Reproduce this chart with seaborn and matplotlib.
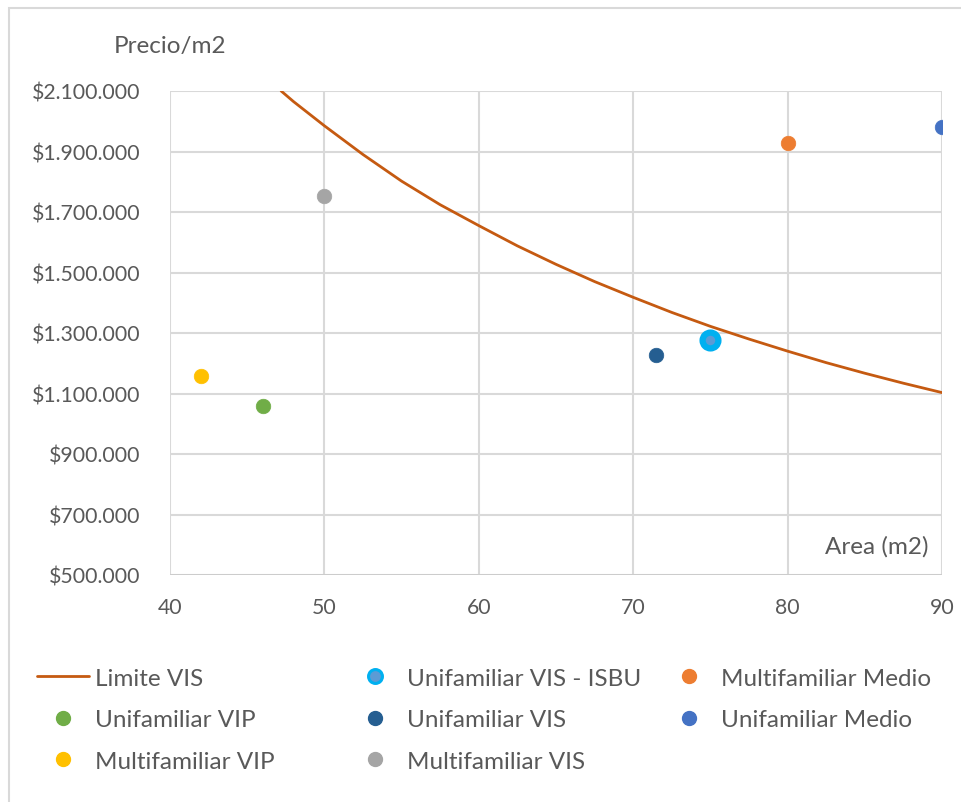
import matplotlib
matplotlib.use("Agg")
import matplotlib.pyplot as plt
import matplotlib.ticker as mticker
from matplotlib.patches import Rectangle
from matplotlib.lines import Line2D
import seaborn as sns
import pandas as pd

sns.set_theme(style="white")
plt.rcParams['font.family'] = ['Lato', 'DejaVu Sans']

# Limite VIS curve
limite_x = [47.2, 48, 50, 52.5, 55, 57.5, 60, 62.5, 65, 67.5, 70, 72.5, 75, 77.5, 80, 82.5, 85, 87.5, 90]
limite_y = [2100000, 2065000, 1985000, 1890000, 1802000, 1724000, 1655000, 1588000, 1527000, 1470000,
            1418000, 1368000, 1322000, 1280000, 1240000, 1202000, 1167000, 1134000, 1103000]

series_names = ["Unifamiliar VIP", "Multifamiliar VIP", "Unifamiliar VIS - ISBU", "Unifamiliar VIS",
                "Multifamiliar VIS", "Multifamiliar Medio", "Unifamiliar Medio"]
series_x = [46, 42, 75, 71.5, 50, 80, 90]
series_y = [1058000, 1158000, 1278000, 1227000, 1752000, 1927000, 1980000]
series_colors = ["#70AD47", "#FFC000", "#00B0F0", "#255E91", "#A5A5A5", "#ED7D31", "#4472C4"]

y_ticks = [500000, 700000, 900000, 1100000, 1300000, 1500000, 1700000, 1900000, 2100000]
x_ticks = [40, 50, 60, 70, 80, 90]

fig = plt.figure(figsize=(9.61, 8.03), dpi=100)
ax = fig.add_axes([170/961, 1-576/803, (942-170)/961, (576-92)/803])

curve = pd.DataFrame({"x": limite_x, "y": limite_y})
sns.lineplot(data=curve, x="x", y="y", ax=ax, color="#C55A11", linewidth=2.0, zorder=3, sort=False)

for name, xv, yv, c in zip(series_names, series_x, series_y, series_colors):
    df = pd.DataFrame({"x": [xv], "y": [yv]})
    if name == "Unifamiliar VIS - ISBU":
        sns.scatterplot(data=df, x="x", y="y", ax=ax, color="#5B9BD5", s=130,
                        edgecolor="#00B0F0", linewidth=4.5, zorder=4)
    else:
        sns.scatterplot(data=df, x="x", y="y", ax=ax, color=c, s=110, edgecolor=c,
                        linewidth=0.5, zorder=4)

ax.set_xlim(40, 90)
ax.set_ylim(500000, 2100000)
ax.set_xticks(x_ticks)
ax.set_yticks(y_ticks)
ax.yaxis.set_major_formatter(mticker.FuncFormatter(lambda v, p: "$" + f"{v:,.0f}".replace(",", ".")))
ax.grid(True, color="#D9D9D9", linewidth=1.5)
ax.set_axisbelow(True)
for s in ax.spines.values():
    s.set_visible(False)
ax.axhline(500000, color="#C8C8C8", linewidth=1.8, zorder=2)
ax.tick_params(axis="both", colors="#595959", labelsize=15.3, length=0)
ax.tick_params(axis="x", pad=16)
ax.tick_params(axis="y", pad=21)
ax.set_xlabel("")
ax.set_ylabel("")
for lab in ax.get_xticklabels() + ax.get_yticklabels():
    lab.set_color("#595959")

fig.text(170/961, 1-47/803, "Precio/m2", ha="center", va="center", fontsize=17.5, color="#595959")
ax.text(0.983, 0.06, "Area (m2)", transform=ax.transAxes, ha="right", va="center",
        fontsize=17.5, color="#595959")

# Legend handles
def make_handle(name):
    if name == "Limite VIS":
        return Line2D([0], [0], color="#C55A11", linewidth=2.0)
    i = series_names.index(name)
    c = series_colors[i]
    if name == "Unifamiliar VIS - ISBU":
        return Line2D([0], [0], linestyle="", marker="o", markersize=10, markerfacecolor="#5B9BD5",
                      markeredgecolor="#00B0F0", markeredgewidth=2.2)
    return Line2D([0], [0], linestyle="", marker="o", markersize=10, markerfacecolor=c,
                  markeredgecolor=c)

legend_columns = [
    (["Limite VIS", "Unifamiliar VIP", "Multifamiliar VIP"], 37),
    (["Unifamiliar VIS - ISBU", "Unifamiliar VIS", "Multifamiliar VIS"], 349),
    (["Multifamiliar Medio", "Unifamiliar Medio"], 663),
]
fs = 17.5
for names, x0 in legend_columns:
    hs = [make_handle(n) for n in names]
    leg = fig.legend(hs, names, loc="upper left", bbox_to_anchor=((x0 - 0.4*fs*100/72)/961, 1-659/803),
                     frameon=False, fontsize=fs, labelcolor="#595959", handlelength=2.14,
                     handletextpad=0.25, labelspacing=0.84, borderaxespad=0)

fig.patches.append(Rectangle((9/961, -0.1), 1.2, 1-9/803+0.1, transform=fig.transFigure,
                             fill=False, edgecolor="#D9D9D9", linewidth=1.5))

fig.savefig("out.png", dpi=100, facecolor="white")
